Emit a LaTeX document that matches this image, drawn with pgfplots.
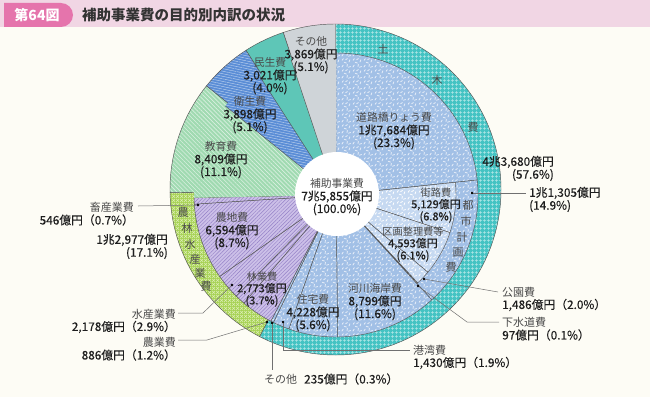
\documentclass[border=0pt]{standalone}
\usepackage{fontspec}
\setmainfont{Noto Sans CJK JP}
\newfontfamily\numf[FakeBold=0.3]{Noto Sans CJK JP}
\usepackage{pgfplots}
\pgfplotsset{compat=1.18}
\usetikzlibrary{patterns,patterns.meta}

\definecolor{bgc}{HTML}{FDFCF5}
\definecolor{barpink}{HTML}{F1D6E4}
\definecolor{boxpink}{HTML}{E574AC}
\definecolor{titletxt}{HTML}{333333}
\definecolor{croad}{HTML}{A2C0E6}
\definecolor{clight}{HTML}{C6D9F1}
\definecolor{cteal}{HTML}{44C3C3}
\definecolor{ctealline}{HTML}{B4E7E7}
\definecolor{cygreen}{HTML}{A6D253}
\definecolor{cygline}{HTML}{DCEEB4}
\definecolor{clav}{HTML}{CCC0E8}
\definecolor{clavline}{HTML}{9480C6}
\definecolor{cedu}{HTML}{A0DAB1}
\definecolor{ceisei}{HTML}{5A8DD6}
\definecolor{cmin}{HTML}{5EC6B7}
\definecolor{cgray}{HTML}{CFD4D8}
\definecolor{edgec}{HTML}{555555}
\definecolor{ptrc}{HTML}{707070}
\definecolor{txt}{HTML}{1E1E1E}
\definecolor{nm}{HTML}{4A4A4A}

\pgfdeclarepatternformonly{confetti}{\pgfpointorigin}{\pgfqpoint{11bp}{11bp}}{\pgfqpoint{11bp}{11bp}}{%
  \pgfsetlinewidth{0.85bp}\pgfsetroundcap
  \pgfpathmoveto{\pgfqpoint{1bp}{1bp}}\pgfpathlineto{\pgfqpoint{2.4bp}{3.2bp}}
  \pgfpathmoveto{\pgfqpoint{6.5bp}{1.5bp}}\pgfpathlineto{\pgfqpoint{6.9bp}{4.0bp}}
  \pgfpathmoveto{\pgfqpoint{3.5bp}{6.2bp}}\pgfpathlineto{\pgfqpoint{5.9bp}{5.4bp}}
  \pgfpathmoveto{\pgfqpoint{8.7bp}{6.5bp}}\pgfpathlineto{\pgfqpoint{9.6bp}{8.9bp}}
  \pgfpathmoveto{\pgfqpoint{1.2bp}{8.3bp}}\pgfpathlineto{\pgfqpoint{2.6bp}{10.2bp}}
  \pgfpathmoveto{\pgfqpoint{8.2bp}{0.9bp}}\pgfpathlineto{\pgfqpoint{10.3bp}{1.6bp}}
  \pgfpathmoveto{\pgfqpoint{5.0bp}{9.0bp}}\pgfpathlineto{\pgfqpoint{7.0bp}{10.2bp}}
  \pgfusepath{stroke}}
\pgfdeclarepatternformonly{tgrid}{\pgfpointorigin}{\pgfqpoint{3.6bp}{3.6bp}}{\pgfqpoint{3.6bp}{3.6bp}}{%
  \pgfsetlinewidth{0.5bp}
  \pgfpathmoveto{\pgfqpoint{0bp}{1.8bp}}\pgfpathlineto{\pgfqpoint{3.6bp}{1.8bp}}
  \pgfpathmoveto{\pgfqpoint{1.8bp}{0bp}}\pgfpathlineto{\pgfqpoint{1.8bp}{3.6bp}}
  \pgfusepath{stroke}}
\pgfdeclarepatternformonly{dgrid}{\pgfpointorigin}{\pgfqpoint{4bp}{4bp}}{\pgfqpoint{4bp}{4bp}}{%
  \pgfsetlinewidth{0.5bp}
  \pgfpathmoveto{\pgfqpoint{0bp}{0bp}}\pgfpathlineto{\pgfqpoint{4bp}{4bp}}
  \pgfpathmoveto{\pgfqpoint{0bp}{4bp}}\pgfpathlineto{\pgfqpoint{4bp}{0bp}}
  \pgfusepath{stroke}}

% values (oku yen), clockwise from top
\def\vals{17684,5129,4593,1486,97,8799,4228,1430,235,2773,886,2178,6594,546,8409,3898,3021,3869}
\expandafter\gdef\csname A0\endcsname{90}
\gdef\cum{0}
\foreach \v [count=\i] in \vals {%
  \xdef\cum{\fpeval{\cum+\v}}%
  \expandafter\xdef\csname A\i\endcsname{\fpeval{round(90-\cum/75855*360,4)}}%
}
\newcommand\A[1]{\csname A#1\endcsname}
\newcommand\pwedge[6]{\path[#6] (axis cs:#1,#2) -- ([shift={(\A{#4}:#3bp)}]axis cs:#1,#2) arc[start angle=\A{#4},end angle=\A{#5},radius=#3bp] -- cycle;}
\newcommand\prad[4]{\draw[ed] (axis cs:#1,#2) -- ([shift={(\A{#3}:#4bp)}]axis cs:#1,#2);}
\newcommand\lbl[3]{{\color{nm}#1}\\{\numf\fontsize{11.8bp}{12.6bp}\selectfont #2}\\{\numf\fontsize{11.8bp}{12.6bp}\selectfont #3}}
\newcommand\slbl[3]{{\color{nm}#1}\\{\numf\fontsize{11bp}{12.2bp}\selectfont #2}\\{\numf\fontsize{11bp}{12.2bp}\selectfont #3}}
\newcommand\nf[1]{{\numf\fontsize{11.8bp}{12.6bp}\selectfont #1}}

\tikzset{
  ed/.style={draw=edgec, line width=0.45bp},
  bl/.style={preaction={fill=croad}, pattern=confetti, pattern color=white!75!croad},
  lb/.style={preaction={fill=clight}, pattern=confetti, pattern color=white},
  lv/.style={preaction={fill=clav}, pattern={Lines[angle=45,distance=2.6bp,line width=0.45bp]}, pattern color=clavline},
  edu/.style={preaction={fill=cedu}, pattern={Lines[angle=-45,distance=3bp,line width=0.6bp]}, pattern color=white!60!cedu},
  eis/.style={preaction={fill=ceisei}, pattern={Lines[angle=-12,distance=2.5bp,line width=0.5bp]}, pattern color=white!55!ceisei},
  lab/.style={align=center, font=\fontsize{10.8bp}{12.6bp}\selectfont, text=txt, inner sep=0pt},
  slab/.style={align=center, font=\fontsize{10.2bp}{12.2bp}\selectfont, text=txt, inner sep=0pt},
  olab/.style={font=\fontsize{11bp}{12.6bp}\selectfont, text=txt, inner sep=0pt},
  vch/.style={font=\fontsize{11bp}{12bp}\selectfont, text=nm, inner sep=0pt},
  ptr/.style={draw=ptrc, line width=0.5bp},
}

\begin{document}
\begin{tikzpicture}
\begin{axis}[scale only axis, width=650bp, height=397bp,
  xmin=0, xmax=650, ymin=0, ymax=397, y dir=reverse,
  hide axis, clip=false, anchor=south west, at={(0,0)}]
% background and title
\fill[bgc] (axis cs:0,0) rectangle (axis cs:650,397);
\fill[barpink] (axis cs:0,0) rectangle (axis cs:650,27);
\fill[boxpink] (axis cs:4,3) -- (axis cs:61,3) arc[start angle=90,end angle=-90,radius=12bp] -- (axis cs:4,27) -- cycle;
\node[text=white, font=\fontsize{14bp}{16bp}\selectfont\bfseries, inner sep=0pt] at (axis cs:37,15) {第64図};
\node[anchor=west, text=titletxt, font=\fontsize{14.5bp}{16bp}\selectfont\bfseries, inner sep=0pt] at (axis cs:82,15) {補助事業費の目的別内訳の状況};

% outer wedges (outer ring centre)
\pwedge{335.5}{189.5}{165.5}{0}{9}{ed, preaction={fill=cteal}, pattern=tgrid, pattern color=ctealline}
\pwedge{335.5}{189.5}{165.5}{9}{14}{ed, preaction={fill=cygreen}, pattern=dgrid, pattern color=cygline}
\pwedge{335.5}{189.5}{165.5}{14}{15}{ed, edu}
\pwedge{335.5}{189.5}{165.5}{15}{16}{ed, eis}
\pwedge{335.5}{189.5}{165.5}{16}{17}{ed, fill=cmin}
\pwedge{335.5}{189.5}{165.5}{17}{18}{ed, fill=cgray}

% inner wedges (inner pie centre)
\pwedge{336}{195}{142}{0}{1}{ed, bl}
\pwedge{336}{195}{142}{1}{5}{ed, bl}
\pwedge{336}{195}{142}{5}{6}{ed, bl}
\pwedge{336}{195}{142}{6}{7}{ed, bl}
\pwedge{336}{195}{142}{7}{8}{ed, bl}
\pwedge{336}{195}{142}{8}{9}{ed, bl}
\pwedge{336}{195}{142}{9}{10}{ed, lv}
\pwedge{336}{195}{142}{10}{11}{ed, lv}
\pwedge{336}{195}{142}{11}{12}{ed, lv}
\pwedge{336}{195}{142}{12}{13}{ed, lv}
\pwedge{336}{195}{142}{13}{14}{ed, lv}
\pwedge{336}{195}{142}{14}{15}{edu}
\pwedge{336}{195}{142}{15}{16}{eis}
\pwedge{336}{195}{142}{16}{17}{fill=cmin}
\pwedge{336}{195}{142}{17}{18}{fill=cgray}
\prad{336}{195}{15}{142}
\prad{336}{195}{16}{142}
\prad{336}{195}{17}{142}
% city planning sub-sectors
\pwedge{336}{195}{120}{1}{2}{ed, lb}
\pwedge{336}{195}{120}{2}{3}{ed, lb}
\pwedge{336}{195}{120}{3}{4}{ed, lb}
\pwedge{336}{195}{120}{4}{5}{ed, lb}
% centre
\fill[white] (axis cs:337,194) circle[radius=42bp];
\node[lab] at (axis cs:337,197) {\lbl{補助事業費}{7兆5,855億円}{(100.0\%)}};

% inner labels
\node[lab] at (axis cs:394,131) {\lbl{道路橋りょう費}{1兆7,684億円}{(23.3\%)}};
\node[slab] at (axis cs:436,205) {\slbl{街路費}{5,129億円}{(6.8\%)}};
\node[slab] at (axis cs:413,244) {\slbl{区画整理費等}{4,593億円}{(6.1\%)}};
\node[lab] at (axis cs:375,302) {\lbl{河川海岸費}{8,799億円}{(11.6\%)}};
\node[lab] at (axis cs:313,313) {\lbl{住宅費}{4,228億円}{(5.6\%)}};
\node[slab] at (axis cs:262,289) {\slbl{林業費}{2,773億円}{(3.7\%)}};
\node[lab] at (axis cs:232,231) {\lbl{農地費}{6,594億円}{(8.7\%)}};
\node[lab] at (axis cs:221,160) {\lbl{教育費}{8,409億円}{(11.1\%)}};
\node[lab] at (axis cs:250,115) {\lbl{衛生費}{3,898億円}{(5.1\%)}};
\node[lab] at (axis cs:270,76) {\lbl{民生費}{3,021億円}{(4.0\%)}};
\node[lab] at (axis cs:311,55) {\lbl{その他}{3,869億円}{(5.1\%)}};

% ring vertical labels
\node[vch] at (axis cs:383,49) {土};
\node[vch] at (axis cs:437,80) {木};
\node[vch] at (axis cs:473,127) {費};
\node[vch] at (axis cs:468,205) {都};
\node[vch] at (axis cs:466,221) {市};
\node[vch] at (axis cs:462,237) {計};
\node[vch] at (axis cs:458,253) {画};
\node[vch] at (axis cs:451,267) {費};
\node[vch] at (axis cs:183,212) {農};
\node[vch] at (axis cs:187,228) {林};
\node[vch] at (axis cs:190,244) {水};
\node[vch] at (axis cs:195,259) {産};
\node[vch] at (axis cs:200,273) {業};
\node[vch] at (axis cs:206,286) {費};

% right labels
\node[olab, anchor=east] at (axis cs:554,162) {\nf{4兆3,680億円}};
\node[olab, anchor=east] at (axis cs:554,175) {\nf{(57.6\%)}};
\draw[ptr] (axis cs:472,193) -- (axis cs:526,193);
\fill[black] (axis cs:472,193) circle[radius=1.3bp];
\node[olab, anchor=west] at (axis cs:529,193) {\nf{1兆1,305億円}};
\node[olab, anchor=west] at (axis cs:529,206) {\nf{(14.9\%)}};

\draw[ptr] (axis cs:424,279) -- (axis cs:498,292);
\fill[black] (axis cs:424,279) circle[radius=1.3bp];
\node[olab, anchor=west] at (axis cs:502,292) {{\color{nm}公園費}};
\node[olab, anchor=west] at (axis cs:502,305) {\nf{1,486億円（2.0\%）}};

\draw[ptr] (axis cs:418,286) -- (axis cs:467,322) -- (axis cs:499,322);
\fill[black] (axis cs:418,286) circle[radius=1.3bp];
\node[olab, anchor=west] at (axis cs:502,322) {{\color{nm}下水道費}};
\node[olab, anchor=west] at (axis cs:502,335) {\nf{97億円（0.1\%）}};

\draw[ptr] (axis cs:283,322) -- (axis cs:283,350) -- (axis cs:410,350);
\fill[black] (axis cs:283,322) circle[radius=1.3bp];
\node[olab, anchor=west] at (axis cs:413,350) {{\color{nm}港湾費}};
\node[olab, anchor=west] at (axis cs:413,363) {\nf{1,430億円（1.9\%）}};

\draw[ptr] (axis cs:272,323) -- (axis cs:272,370);
\fill[black] (axis cs:272,323) circle[radius=1.3bp];
\node[olab, anchor=west] at (axis cs:264,379) {{\color{nm}その他}\hspace{7bp}\nf{235億円（0.3\%）}};

% left labels
\draw[ptr] (axis cs:138,206) -- (axis cs:198,205);
\fill[black] (axis cs:198,205) circle[radius=1.3bp];
\node[olab, anchor=east] at (axis cs:134,207) {{\color{nm}畜産業費}};
\node[olab, anchor=east] at (axis cs:134,220) {\nf{546億円（0.7\%）}};
\node[olab, anchor=east] at (axis cs:168,240) {\nf{1兆2,977億円}};
\node[olab, anchor=east] at (axis cs:168,253) {\nf{(17.1\%)}};

\draw[ptr] (axis cs:178,313) -- (axis cs:203,313) -- (axis cs:232,285);
\fill[black] (axis cs:232,285) circle[radius=1.3bp];
\node[olab, anchor=east] at (axis cs:176,314) {{\color{nm}水産業費}};
\node[olab, anchor=east] at (axis cs:176,327) {\nf{2,178億円（2.9\%）}};

\draw[ptr] (axis cs:178,340) -- (axis cs:207,340) -- (axis cs:267,322);
\fill[black] (axis cs:267,322) circle[radius=1.3bp];
\node[olab, anchor=east] at (axis cs:176,342) {{\color{nm}農業費}};
\node[olab, anchor=east] at (axis cs:176,355) {\nf{886億円（1.2\%）}};
\end{axis}
\end{tikzpicture}
\end{document}
